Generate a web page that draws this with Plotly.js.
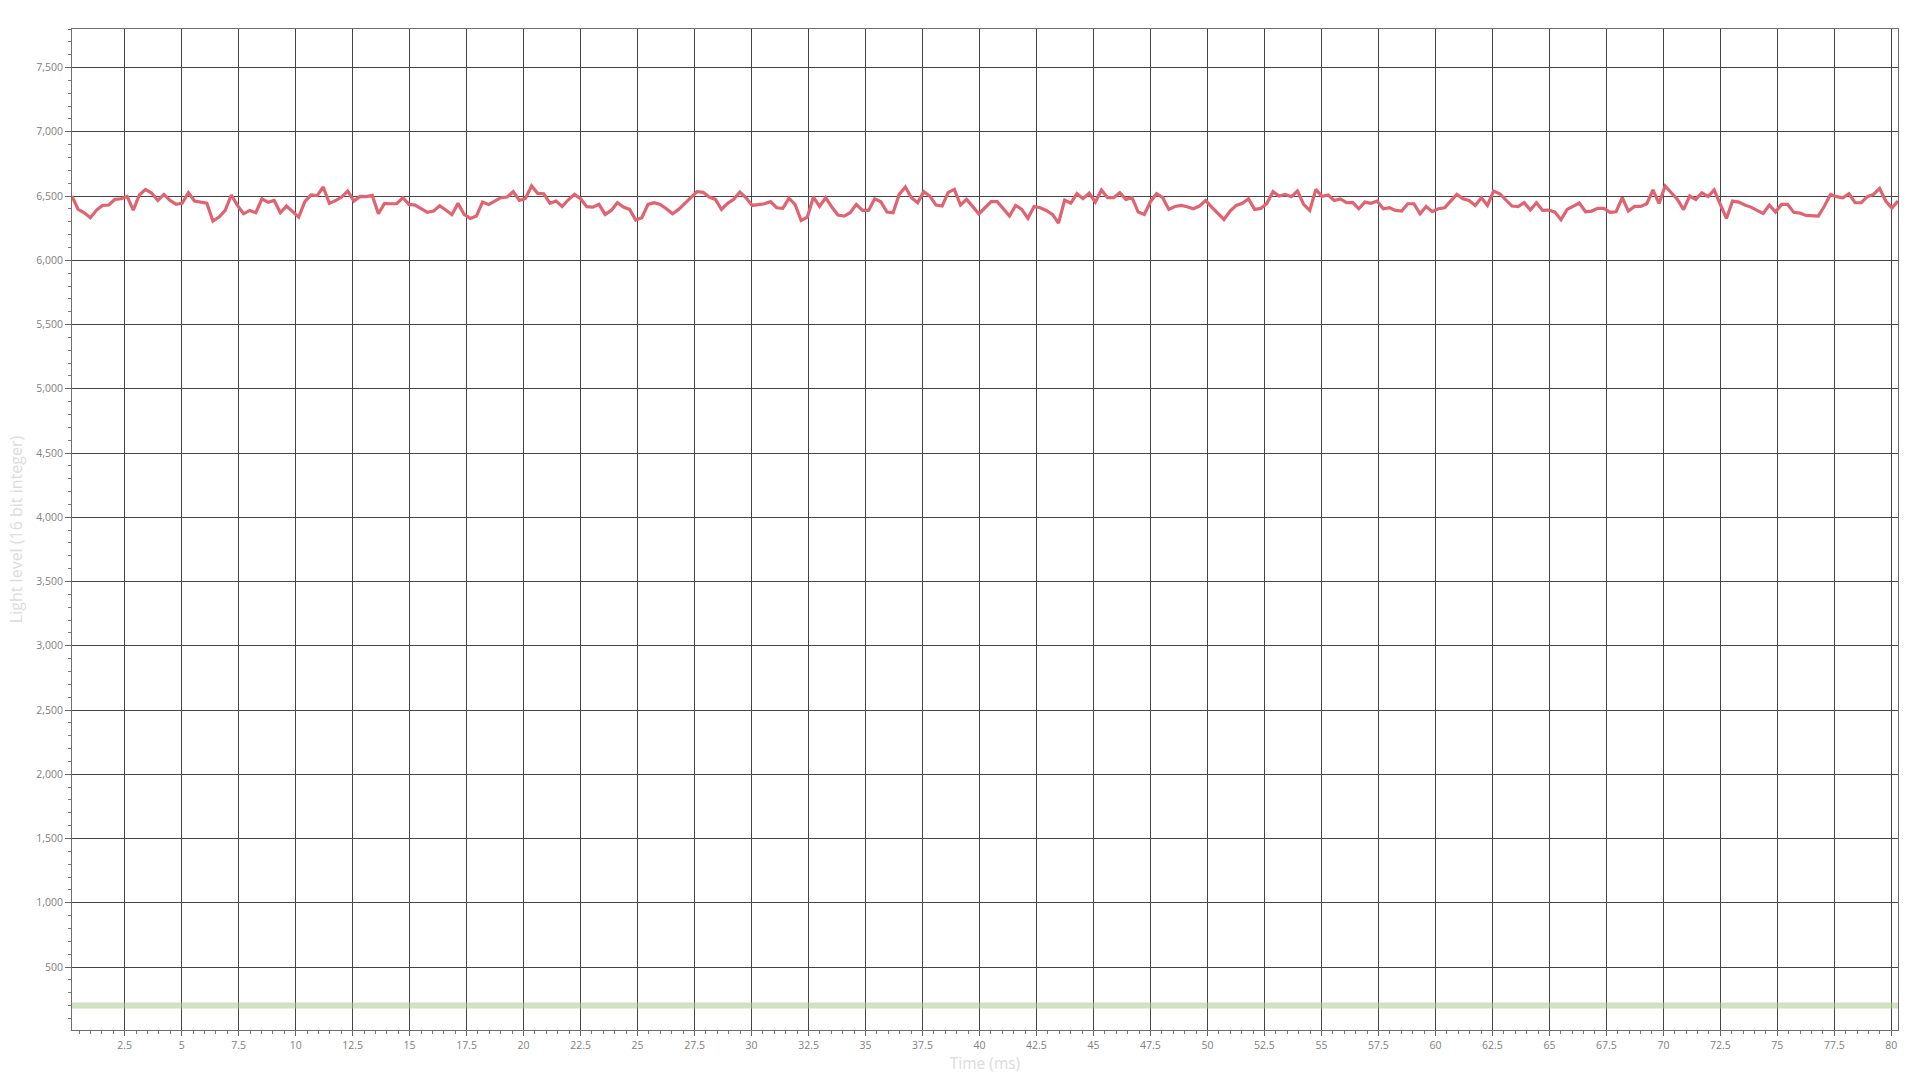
<!DOCTYPE html>
<html>
<head>
<meta charset="utf-8">
<script src="https://cdn.plot.ly/plotly-3.0.1.min.js"></script>
<style>
  html, body { margin: 0; padding: 0; background: #ffffff; }
  #chart { width: 1920px; height: 1080px; }
</style>
</head>
<body>
<div id="chart"></div>
<script>
// Sampling of the light sensor (ms)
const timeStart = 0.19;     // first sample time (ms)
const sampleStep = 0.2688;  // time between samples (ms)

// Light level readings (16 bit integer)
const lightLevel = [
  6500, 6396, 6370, 6331, 6391, 6427, 6430, 6474, 6479, 6497,
  6391, 6508, 6552, 6523, 6466, 6513, 6466, 6435, 6445, 6526,
  6461, 6451, 6445, 6305, 6336, 6388, 6508, 6427, 6362, 6388,
  6370, 6479, 6451, 6466, 6370, 6422, 6378, 6336, 6456, 6508,
  6503, 6570, 6443, 6464, 6492, 6539, 6461, 6497, 6495, 6505,
  6362, 6443, 6440, 6440, 6487, 6435, 6430, 6401, 6373, 6383,
  6425, 6391, 6355, 6443, 6357, 6326, 6344, 6453, 6435, 6461,
  6487, 6492, 6534, 6466, 6482, 6578, 6521, 6518, 6443, 6461,
  6419, 6471, 6513, 6479, 6417, 6414, 6435, 6357, 6388, 6448,
  6414, 6396, 6313, 6331, 6435, 6448, 6435, 6401, 6362, 6396,
  6443, 6492, 6534, 6529, 6492, 6474, 6396, 6443, 6474, 6531,
  6487, 6427, 6432, 6440, 6456, 6409, 6404, 6482, 6435, 6310,
  6336, 6492, 6419, 6487, 6414, 6352, 6344, 6370, 6435, 6388,
  6388, 6479, 6456, 6375, 6370, 6513, 6570, 6487, 6448, 6534,
  6500, 6430, 6422, 6529, 6552, 6430, 6474, 6422, 6362, 6409,
  6456, 6456, 6396, 6344, 6427, 6396, 6326, 6419, 6409, 6388,
  6357, 6290, 6469, 6445, 6518, 6479, 6523, 6453, 6547, 6487,
  6487, 6526, 6474, 6487, 6375, 6357, 6456, 6518, 6487, 6396,
  6419, 6427, 6417, 6401, 6422, 6466, 6414, 6370, 6318, 6383,
  6427, 6443, 6479, 6396, 6404, 6443, 6534, 6500, 6513, 6495,
  6539, 6435, 6388, 6552, 6497, 6508, 6466, 6477, 6448, 6451,
  6401, 6453, 6443, 6461, 6401, 6409, 6388, 6383, 6440, 6440,
  6362, 6419, 6378, 6401, 6409, 6461, 6513, 6479, 6466, 6427,
  6487, 6427, 6539, 6518, 6471, 6422, 6417, 6448, 6391, 6448,
  6388, 6391, 6375, 6316, 6396, 6422, 6445, 6378, 6383, 6404,
  6404, 6373, 6378, 6487, 6383, 6419, 6419, 6440, 6547, 6443,
  6578, 6526, 6474, 6394, 6500, 6474, 6526, 6495, 6547, 6435,
  6326, 6461, 6453, 6430, 6414, 6388, 6365, 6430, 6375, 6435,
  6435, 6373, 6367, 6349, 6344, 6344, 6422, 6513, 6495, 6487,
  6518, 6448, 6448, 6495, 6513, 6560, 6461, 6406, 6461
];

// Threshold level drawn as a flat band
const thresholdLevel = 200;

// Axis settings
const yMin = 10;
const yMax = 7800;
const timeEnd = timeStart + sampleStep * (lightLevel.length - 1);

const lightTrace = {
  type: 'scatter',
  mode: 'lines',
  y: lightLevel,
  x0: timeStart,
  dx: sampleStep,
  line: { color: '#e0636f', width: 3.2 },
  hoverinfo: 'x+y',
  showlegend: false
};

const thresholdTrace = {
  type: 'scatter',
  mode: 'lines',
  x: [timeStart, timeEnd],
  y: [thresholdLevel, thresholdLevel],
  line: { color: 'rgba(168,202,142,0.55)', width: 6 },
  hoverinfo: 'skip',
  showlegend: false
};

const tickFont = { family: '"Open Sans", "Noto Sans", sans-serif', size: 10.5, color: '#808080' };
const xTitleFont = { family: '"Open Sans", "Noto Sans", sans-serif', size: 15.5, color: '#dcdcdc' };
const yTitleFont = { family: '"Open Sans", "Noto Sans", sans-serif', size: 16, color: '#dcdcdc' };

const layout = {
  width: 1920,
  height: 1080,
  paper_bgcolor: '#ffffff',
  plot_bgcolor: '#ffffff',
  margin: { l: 72, r: 22, t: 29, b: 50 },
  showlegend: false,
  separators: '.,',
  xaxis: {
    range: [timeStart, timeEnd],
    tick0: 0,
    dtick: 2.5,
    ticks: 'outside',
    ticklen: 5,
    tickcolor: '#666666',
    tickfont: tickFont,
    showline: true,
    linecolor: '#6e6e6e',
    linewidth: 1,
    mirror: true,
    showgrid: true,
    gridcolor: '#454545',
    gridwidth: 1,
    zeroline: false,
    minor: { dtick: 0.5, tick0: 0, ticks: 'outside', ticklen: 3, tickcolor: '#777777', showgrid: false },
    title: { text: 'Time (ms)', font: xTitleFont, standoff: 6 }
  },
  yaxis: {
    range: [yMin, yMax],
    tick0: 0,
    dtick: 500,
    tickformat: ',d',
    ticks: 'outside',
    ticklen: 6,
    tickcolor: '#666666',
    tickfont: tickFont,
    showline: true,
    linecolor: '#6e6e6e',
    linewidth: 1,
    mirror: true,
    showgrid: true,
    gridcolor: '#454545',
    gridwidth: 1,
    zeroline: false,
    minor: { dtick: 100, tick0: 0, ticks: 'outside', ticklen: 3, tickcolor: '#777777', showgrid: false },
    title: { text: 'Light level (16 bit integer)', font: yTitleFont, standoff: 9 }
  }
};

Plotly.newPlot('chart', [thresholdTrace, lightTrace], layout, { displayModeBar: false, staticPlot: true });
</script>
</body>
</html>
